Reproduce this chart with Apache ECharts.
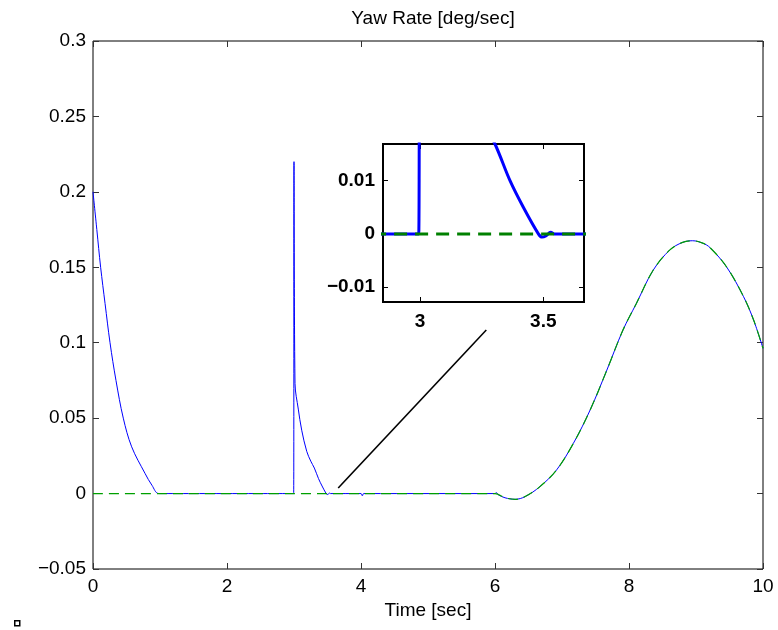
<!DOCTYPE html>
<html>
<head>
<meta charset="utf-8">
<script src="https://cdn.jsdelivr.net/npm/echarts@6/dist/echarts.min.js"></script>
<style>
  html, body { margin: 0; padding: 0; background: #fff; }
  #main { width: 778px; height: 630px; }
</style>
</head>
<body>
<div id="main"></div>
<script>
// measured yaw rate (blue)
var timeMeasured = [0, 0.057, 0.114, 0.18, 0.254, 0.343, 0.452, 0.577, 0.776, 0.88, 0.985,
    2.995, 3.0, 3.015, 3.064, 3.115, 3.19, 3.25, 3.304, 3.365, 3.419, 3.48, 3.495, 3.51, 3.53, 3.545,
    4.0, 4.02, 4.04, 6.0, 6.02, 6.05, 6.15, 6.3, 6.45, 6.67, 6.92, 7.17, 7.42, 7.67, 7.91,
    8.11, 8.36, 8.61, 8.8, 8.95, 9.1, 9.21, 9.46, 9.71, 9.86, 10];
var yawMeasured = [0.2, 0.175, 0.15, 0.126, 0.1, 0.075, 0.05, 0.031, 0.0134, 0.0055, 0,
    0, 0.22, 0.073, 0.056, 0.042, 0.028, 0.0215, 0.0169, 0.01, 0.005, 0, -0.0006, -0.0004, 0.0003, 0,
    0, -0.0015, 0, 0, 0.0006, -0.0008, -0.0028, -0.0038, -0.002, 0.0046, 0.0157, 0.0333, 0.0554, 0.0819, 0.1084,
    0.126, 0.148, 0.1615, 0.1665, 0.1676, 0.166, 0.163, 0.150, 0.1305, 0.115, 0.0963];

// reference yaw rate (green dashed)
var timeRef = [0, 6.0, 6.15, 6.3, 6.45, 6.67, 6.92, 7.17, 7.42, 7.67, 7.91,
    8.11, 8.36, 8.61, 8.8, 8.95, 9.1, 9.21, 9.46, 9.71, 9.86, 10];
var yawRef = [0, 0, -0.0028, -0.0038, -0.002, 0.0046, 0.0157, 0.0333, 0.0554, 0.0819, 0.1084,
    0.126, 0.148, 0.1615, 0.1665, 0.1676, 0.166, 0.163, 0.150, 0.1305, 0.115, 0.0963];

// pointer line from the curve to the inset
var pointerX = [3.66, 5.87];
var pointerY = [0.0037, 0.1084];

var insetXTicks = [3, 3.5];
var insetYTicks = [-0.01, 0, 0.01];

function pairs(xs, ys) {
    var out = [];
    for (var i = 0; i < xs.length; i++) out.push([xs[i], ys[i]]);
    return out;
}
function fmt(v) {
    var s = String(Math.round(v * 1000) / 1000);
    return s.replace('-', '\u2212');
}

var font = "'Liberation Sans', Arial, sans-serif";
var tickCol = '#333';

var myChart = echarts.init(document.getElementById('main'));
var option = {
    backgroundColor: '#fff',
    animation: false,
    title: {
        text: 'Yaw Rate [deg/sec]',
        left: 428, top: 4, textAlign: 'center',
        textStyle: { color: '#000', fontWeight: 'normal', fontSize: 19, fontFamily: font }
    },
    grid: [
        { left: 93, right: 15, top: 41, bottom: 61, show: true, borderColor: '#000', borderWidth: 1 },
        { left: 383, top: 144, width: 201, height: 158, show: true, backgroundColor: '#fff', borderColor: '#000', borderWidth: 2, z: 5 }
    ],
    xAxis: [
        {
            type: 'value', gridIndex: 0, min: 0, max: 10, interval: 2,
            name: 'Time [sec]', nameLocation: 'middle', nameGap: 27,
            nameTextStyle: { color: '#000', fontSize: 19, fontFamily: font },
            axisLine: { show: false, onZero: false },
            axisTick: { inside: true, length: 6, lineStyle: { color: tickCol } },
            axisLabel: { color: '#000', fontSize: 19, fontFamily: font, margin: 8, formatter: fmt },
            splitLine: { show: false }
        },
        {
            type: 'value', gridIndex: 0, position: 'top', min: 0, max: 10, interval: 2,
            axisLine: { show: false, onZero: false },
            axisTick: { inside: true, length: 6, lineStyle: { color: tickCol } },
            axisLabel: { show: false }, splitLine: { show: false }
        },
        {
            type: 'value', gridIndex: 1, min: 2.85, max: 3.665,
            axisLine: { show: false, onZero: false },
            axisTick: { inside: true, length: 5, customValues: insetXTicks, lineStyle: { color: '#000' } },
            axisLabel: { color: '#000', fontSize: 19, fontWeight: 'bold', fontFamily: font, margin: 10,
                customValues: insetXTicks, formatter: fmt },
            splitLine: { show: false }, z: 6
        },
        {
            type: 'value', gridIndex: 1, position: 'top', min: 2.85, max: 3.665,
            axisLine: { show: false, onZero: false },
            axisTick: { inside: true, length: 5, customValues: insetXTicks, lineStyle: { color: '#000' } },
            axisLabel: { show: false }, splitLine: { show: false }, z: 6
        }
    ],
    yAxis: [
        {
            type: 'value', gridIndex: 0, min: -0.05, max: 0.3, interval: 0.05,
            axisLine: { show: false, onZero: false },
            axisTick: { inside: true, length: 6, lineStyle: { color: tickCol } },
            axisLabel: { color: '#000', fontSize: 19, fontFamily: font, margin: 7, formatter: fmt },
            splitLine: { show: false }
        },
        {
            type: 'value', gridIndex: 0, position: 'right', min: -0.05, max: 0.3, interval: 0.05,
            axisLine: { show: false, onZero: false },
            axisTick: { inside: true, length: 6, lineStyle: { color: tickCol } },
            axisLabel: { show: false }, splitLine: { show: false }
        },
        {
            type: 'value', gridIndex: 1, min: -0.0128, max: 0.0169,
            axisLine: { show: false, onZero: false },
            axisTick: { inside: true, length: 5, customValues: insetYTicks, lineStyle: { color: '#000' } },
            axisLabel: { color: '#000', fontSize: 19, fontWeight: 'bold', fontFamily: font, margin: 8,
                customValues: insetYTicks, formatter: fmt },
            splitLine: { show: false }, z: 6
        },
        {
            type: 'value', gridIndex: 1, position: 'right', min: -0.0128, max: 0.0169,
            axisLine: { show: false, onZero: false },
            axisTick: { inside: true, length: 5, customValues: insetYTicks, lineStyle: { color: '#000' } },
            axisLabel: { show: false }, splitLine: { show: false }, z: 6
        }
    ],
    series: [
        {
            name: 'measured', type: 'line', xAxisIndex: 0, yAxisIndex: 0,
            data: pairs(timeMeasured, yawMeasured), showSymbol: false, smooth: 0.35,
            lineStyle: { color: '#0000ff', width: 1 }, silent: true
        },
        {
            name: 'reference', type: 'line', xAxisIndex: 0, yAxisIndex: 0,
            data: pairs(timeRef, yawRef), showSymbol: false, smooth: 0.35,
            lineStyle: { color: '#00a000', width: 1.2, type: [10, 6] }, silent: true
        },
        {
            name: 'pointer', type: 'line', xAxisIndex: 0, yAxisIndex: 0,
            data: pairs(pointerX, pointerY), showSymbol: false,
            lineStyle: { color: '#000', width: 1.6 }, silent: true
        },
        {
            name: 'measured zoom', type: 'line', xAxisIndex: 2, yAxisIndex: 2,
            data: pairs(timeMeasured, yawMeasured), showSymbol: false, clip: true, smooth: 0.35,
            lineStyle: { color: '#0000ff', width: 3 }, silent: true, z: 7
        },
        {
            name: 'reference zoom', type: 'line', xAxisIndex: 2, yAxisIndex: 2,
            data: pairs(timeRef, yawRef), showSymbol: false, clip: true,
            lineStyle: { color: '#008000', width: 3, type: [13, 8] }, silent: true, z: 8
        }
    ],
    graphic: [
        { type: 'rect', left: 14, top: 620, shape: { width: 5, height: 5 },
          style: { fill: '#fff', stroke: '#000', lineWidth: 1.5 } }
    ]
};
myChart.setOption(option);
</script>
</body>
</html>
